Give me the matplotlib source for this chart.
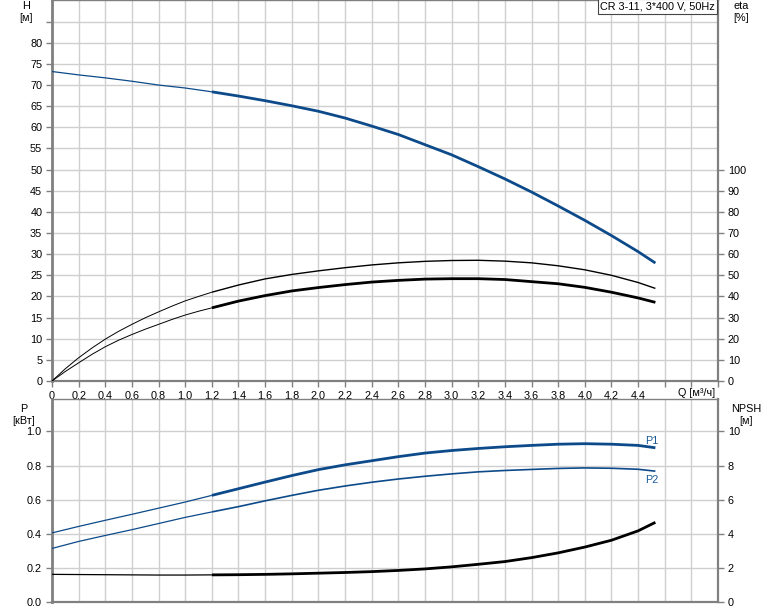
import numpy as np
import matplotlib
matplotlib.use("Agg")
import matplotlib.pyplot as plt

plt.rcParams['font.family'] = ['Liberation Sans', 'DejaVu Sans']

# ---- data ----
q = [0.0, 0.2, 0.4, 0.6, 0.8, 1.0, 1.2, 1.4, 1.6, 1.8, 2.0, 2.2, 2.4, 2.6,
     2.8, 3.0, 3.2, 3.4, 3.6, 3.8, 4.0, 4.2, 4.4, 4.53]
head = [73.2, 72.4, 71.7, 70.9, 70.0, 69.3, 68.4, 67.4, 66.3, 65.1, 63.8, 62.2,
        60.3, 58.3, 55.9, 53.5, 50.7, 47.8, 44.7, 41.4, 38.0, 34.4, 30.6, 27.9]
q_eta = [0.0, 0.1, 0.2, 0.3, 0.4, 0.5, 0.6, 0.7, 0.8, 0.9, 1.0, 1.1, 1.2, 1.4, 1.6,
         1.8, 2.0, 2.2, 2.4, 2.6, 2.8, 3.0, 3.2, 3.4, 3.6, 3.8, 4.0, 4.2, 4.4, 4.53]
eta_total = [0.0, 5.8, 11.0, 15.6, 19.8, 23.5, 26.8, 29.9, 32.7, 35.4, 37.9, 40.0,
             42.0, 45.4, 48.3, 50.4, 52.1, 53.6, 54.9, 55.9, 56.6, 57.0, 57.1, 56.7,
             55.9, 54.5, 52.6, 50.0, 46.6, 43.8]
eta_pump = [0.0, 4.5, 8.6, 12.6, 16.2, 19.3, 22.0, 24.5, 26.8, 29.1, 31.2, 33.0,
            34.6, 37.8, 40.4, 42.6, 44.2, 45.6, 46.8, 47.6, 48.2, 48.4, 48.4, 48.0,
            47.0, 46.0, 44.3, 42.0, 39.3, 37.2]
p1 = [0.405, 0.443, 0.479, 0.514, 0.550, 0.586, 0.625, 0.664, 0.703, 0.741, 0.776,
      0.804, 0.828, 0.852, 0.873, 0.888, 0.900, 0.910, 0.918, 0.925, 0.928, 0.925,
      0.918, 0.904]
p2 = [0.314, 0.355, 0.390, 0.424, 0.460, 0.496, 0.528, 0.559, 0.593, 0.625, 0.655,
      0.680, 0.702, 0.721, 0.737, 0.751, 0.763, 0.771, 0.777, 0.783, 0.786, 0.784,
      0.778, 0.767]
npsh = [1.62, 1.61, 1.60, 1.59, 1.58, 1.58, 1.59, 1.60, 1.62, 1.65, 1.69, 1.73,
        1.78, 1.85, 1.94, 2.06, 2.21, 2.37, 2.60, 2.88, 3.22, 3.62, 4.17, 4.67]

q_ticks = [round(0.2 * i, 1) for i in range(0, 23)]
q_labels = [f"{v:.1f}".replace(".", ",") if v > 0 else "0" for v in q_ticks]
h_ticks = list(range(0, 85, 5))
eta_ticks = list(range(0, 110, 10))
p_ticks = [0.0, 0.2, 0.4, 0.6, 0.8, 1.0]
npsh_ticks = [0, 2, 4, 6, 8, 10]
title_text = "CR 3-11, 3*400 V, 50Hz"

BLUE = '#0d4a8a'
GRID = '#cfcfcf'
SPINE = '#808080'
FS = 7.8

fig = plt.figure(figsize=(7.74, 6.11), dpi=100)
L, R = 52 / 774, 718 / 774
ax1 = fig.add_axes([L, (611 - 381) / 611, R - L, 381 / 611 - 0.0008])
ax2 = fig.add_axes([L, (611 - 602) / 611, R - L, (602 - 399) / 611])


def two_part(ax, x, y, color, lw_thin, lw_thick):
    x = np.array(x)
    y = np.array(y)
    thin = x <= 1.2 + 1e-9
    thick = x >= 1.2 - 1e-9
    ax.plot(x[thin], y[thin], color=color, lw=lw_thin, solid_capstyle='butt',
            solid_joinstyle='round', zorder=3)
    ax.plot(x[thick], y[thick], color=color, lw=lw_thick, solid_capstyle='butt',
            solid_joinstyle='round', zorder=3)


def style(ax):
    ax.set_xlim(0, 5)
    ax.set_xticks([round(0.2 * i, 1) for i in range(0, 26)])
    ax.grid(True, color=GRID, lw=1.0, zorder=0)
    ax.set_axisbelow(True)
    for s in ax.spines.values():
        s.set_color(SPINE)
    ax.spines['left'].set_linewidth(2.0)
    ax.spines['right'].set_linewidth(1.6)
    ax.spines['bottom'].set_linewidth(1.6)
    ax.spines['top'].set_linewidth(1.0)
    ax.tick_params(colors=SPINE, labelcolor='black', labelsize=FS, length=4, width=1,
                   direction='out')


# ---- top panel ----
style(ax1)
ax1.set_ylim(0, 90)
ax1.set_yticks(list(range(0, 90, 5)))
ax1.set_yticklabels([str(v) if v <= 80 else "" for v in range(0, 90, 5)])
ax1.set_xticklabels(q_labels + [""] * (26 - len(q_labels)))
ax1.tick_params(axis='x', pad=3)
ax1.tick_params(axis='y', pad=3)

two_part(ax1, q, head, BLUE, 0.9, 2.0)

ax1b = ax1.twinx()
ax1b.set_ylim(0, 180)
ax1b.set_yticks(eta_ticks)
ax1b.set_yticklabels([str(v) for v in eta_ticks])
ax1b.tick_params(colors=SPINE, labelcolor='black', labelsize=FS, length=4, width=1, pad=3)
for s in ax1b.spines.values():
    s.set_visible(False)
two_part(ax1b, q_eta, eta_total, 'black', 0.7, 1.0)
two_part(ax1b, q_eta, eta_pump, 'black', 0.7, 2.0)

ax1.annotate("Q [м³/ч]", xy=(4.70, 0), xycoords=('data', 'axes fraction'),
             xytext=(0, -5), textcoords='offset points', ha='left', va='top', fontsize=FS)
ax1.text(0.9955, 0.997, title_text, transform=ax1.transAxes, ha='right', va='top',
         fontsize=FS, bbox=dict(boxstyle='square,pad=0.2', fc='white', ec='#444444', lw=0.8),
         zorder=10)

fig.text(26 / 774, 1 - 6 / 611, "H", ha='center', va='center', fontsize=FS)
fig.text(26 / 774, 1 - 18 / 611, "[м]", ha='center', va='center', fontsize=FS)
fig.text(741 / 774, 1 - 6 / 611, "eta", ha='center', va='center', fontsize=FS)
fig.text(741 / 774, 1 - 18 / 611, "[%]", ha='center', va='center', fontsize=FS)

# ---- bottom panel ----
style(ax2)
ax2.set_ylim(0, 1.19)
ax2.set_yticks(p_ticks)
ax2.set_yticklabels([f"{v:.1f}" for v in p_ticks])
ax2.tick_params(axis='x', labelbottom=False, length=0)
two_part(ax2, q, p1, BLUE, 0.9, 2.0)
two_part(ax2, q, p2, BLUE, 0.9, 1.2)

ax2b = ax2.twinx()
ax2b.set_ylim(0, 11.9)
ax2b.set_yticks(npsh_ticks)
ax2b.set_yticklabels([str(v) for v in npsh_ticks])
ax2b.tick_params(colors=SPINE, labelcolor='black', labelsize=FS, length=4, width=1, pad=3)
for s in ax2b.spines.values():
    s.set_visible(False)
two_part(ax2b, q, npsh, 'black', 0.9, 2.0)

ax2.text(4.45, p1[-1] + 0.012, "P1", color='#1a5a9a', fontsize=FS, ha='left', va='bottom')
ax2.text(4.45, p2[-1] - 0.025, "P2", color='#1a5a9a', fontsize=FS, ha='left', va='top')

fig.text(24 / 774, 1 - 409 / 611, "P", ha='center', va='center', fontsize=FS)
fig.text(24 / 774, 1 - 421 / 611, "[кВт]", ha='center', va='center', fontsize=FS)
fig.text(746 / 774, 1 - 409 / 611, "NPSH", ha='center', va='center', fontsize=FS)
fig.text(746 / 774, 1 - 421 / 611, "[м]", ha='center', va='center', fontsize=FS)

fig.savefig("out.png", dpi=100)
